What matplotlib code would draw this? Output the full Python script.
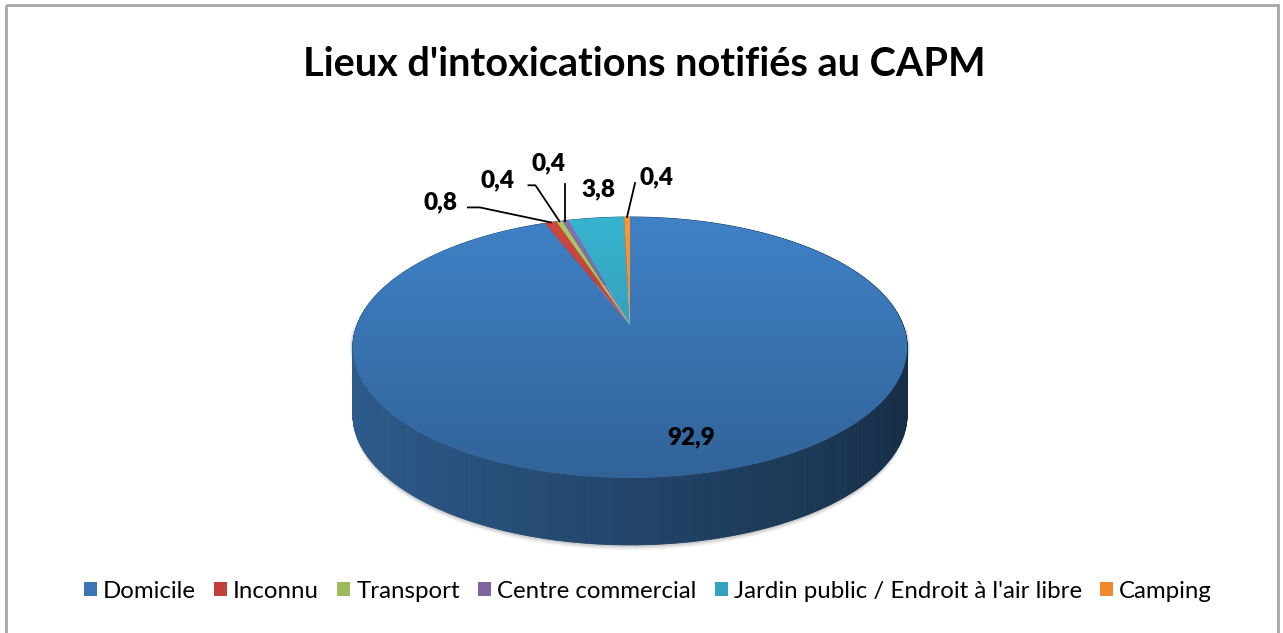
import numpy as np
from matplotlib import pyplot as plt
from matplotlib.patches import Polygon, Rectangle, Patch
from matplotlib.collections import PolyCollection
from matplotlib.colors import to_rgb

plt.rcParams['font.family'] = ['Lato', 'DejaVu Sans']

title = "Lieux d'intoxications notifiés au CAPM"
categories = ["Domicile", "Inconnu", "Transport", "Centre commercial",
              "Jardin public / Endroit à l'air libre", "Camping"]
values = [92.9, 0.8, 0.4, 0.4, 3.8, 0.4]
colors = ["#3a76b5", "#c0403a", "#9bbb59", "#8064a2", "#33a3be", "#f08a2c"]

# label layout: radius of anchor, offset of text, leader (start, elbow) relative to anchor
label_style = [
    dict(r=0.78, dx=16, dy=0, leader=None),
    dict(r=1.0, dx=-110, dy=-20, leader=[(-83, -15), (-71, -15)]),
    dict(r=1.0, dx=-62, dy=-41, leader=[(-31, -36), (-24, -36)]),
    dict(r=1.0, dx=-17, dy=-57, leader=[(0, -37)]),
    dict(r=1.0, dx=2, dy=-29, leader=None),
    dict(r=1.0, dx=29, dy=-40, leader=[(8, -34)]),
]

# pie geometry in pixels
CX, CY = 630, 325
R, RY = 273, 126.6
K = 0.172
DEPTH = 67


def proj(theta, r=1.0):
    t = np.radians(theta)
    u = r * np.sin(t)
    v = r * np.cos(t)
    f = 1.0 / (1 + K * v)
    return CX + R * u * f, CY - RY * v * f


fig = plt.figure(figsize=(12.83, 6.33), dpi=100)
ax = fig.add_axes([0, 0, 1, 1])
ax.set_xlim(0, 1283)
ax.set_ylim(633, 0)
ax.axis('off')

ax.add_patch(Rectangle((6, 5), 1272, 640, fill=False, edgecolor='#a6a6a6', lw=2))

total = sum(values)
bounds = np.concatenate([[0], np.cumsum(values)]) / total * 360

# soft shadow under the pie
ts_all = np.linspace(90, 270, 120)
for k, a in zip([5, 3.5, 2], [0.10, 0.14, 0.2]):
    pts = [proj(t) for t in ts_all]
    pts = [(x, y + DEPTH + k) for x, y in pts] + [(x + k * 0.6 if x > CX else x - k * 0.6, y)
                                                   for x, y in pts[::-1]]
    ax.add_patch(Polygon(pts, closed=True, facecolor='#7f7f7f', edgecolor='none', alpha=a))

# sides
quads, qcols, qkeys = [], [], []
for i, c in enumerate(colors):
    a0, a1 = bounds[i], bounds[i + 1]
    n = max(2, int((a1 - a0) / 0.5))
    ts = np.linspace(a0, a1, n + 1)
    base = np.array(to_rgb(c))
    for ta, tb in zip(ts[:-1], ts[1:]):
        xa, ya = proj(ta)
        xb, yb = proj(tb)
        quads.append([(xa, ya), (xb, yb), (xb, yb + DEPTH), (xa, ya + DEPTH)])
        u = np.sin(np.radians((ta + tb) / 2))
        fac = 0.58 - 0.2 * u
        qcols.append(np.clip(base * fac, 0, 1))
        qkeys.append(np.cos(np.radians((ta + tb) / 2)))
order = np.argsort(qkeys)[::-1]
pc = PolyCollection([quads[j] for j in order], facecolors=[qcols[j] for j in order],
                    edgecolors=[qcols[j] for j in order], linewidths=0.6)
ax.add_collection(pc)

# top faces with vertical gradient
grad = np.linspace(1.1, 0.84, 256)[:, None]
for i, c in enumerate(colors):
    a0, a1 = bounds[i], bounds[i + 1]
    ts = np.linspace(a0, a1, max(3, int((a1 - a0) * 2)))
    pts = [(CX, CY)] + [proj(t) for t in ts]
    poly = Polygon(pts, closed=True, facecolor='none', edgecolor='none')
    ax.add_patch(poly)
    base = np.array(to_rgb(c))
    img = np.clip(grad[:, :, None] * base[None, None, :], 0, 1)
    im = ax.imshow(img, extent=(CX - R - 5, CX + R + 5, 480, 215), aspect='auto',
                   interpolation='bilinear', zorder=2)
    im.set_clip_path(poly)

# data labels
for i, v in enumerate(values):
    st = label_style[i]
    mid = (bounds[i] + bounds[i + 1]) / 2
    ax_, ay_ = proj(mid, st['r'])
    ax.text(ax_ + st['dx'], ay_ + st['dy'], f"{v:.1f}".replace('.', ','),
            ha='center', va='center', fontsize=17.5, fontweight='heavy', zorder=5)
    if st['leader']:
        xs = [ax_ + p[0] for p in st['leader']] + [ax_]
        ys = [ay_ + p[1] for p in st['leader']] + [ay_]
        ax.plot(xs, ys, color='black', lw=1.3, zorder=5)

ax.text(644, 64, title, ha='center', va='center', fontsize=28.5, fontweight='bold')

handles = [Patch(facecolor=c, edgecolor='none') for c in colors]
ax.legend(handles, categories, loc='center', bbox_to_anchor=(648 / 1283, 1 - 591 / 633),
          ncol=6, frameon=False, fontsize=17.3, handlelength=0.55, handleheight=0.55,
          handletextpad=0.25, columnspacing=0.75)

fig.savefig("out.png", dpi=100)
